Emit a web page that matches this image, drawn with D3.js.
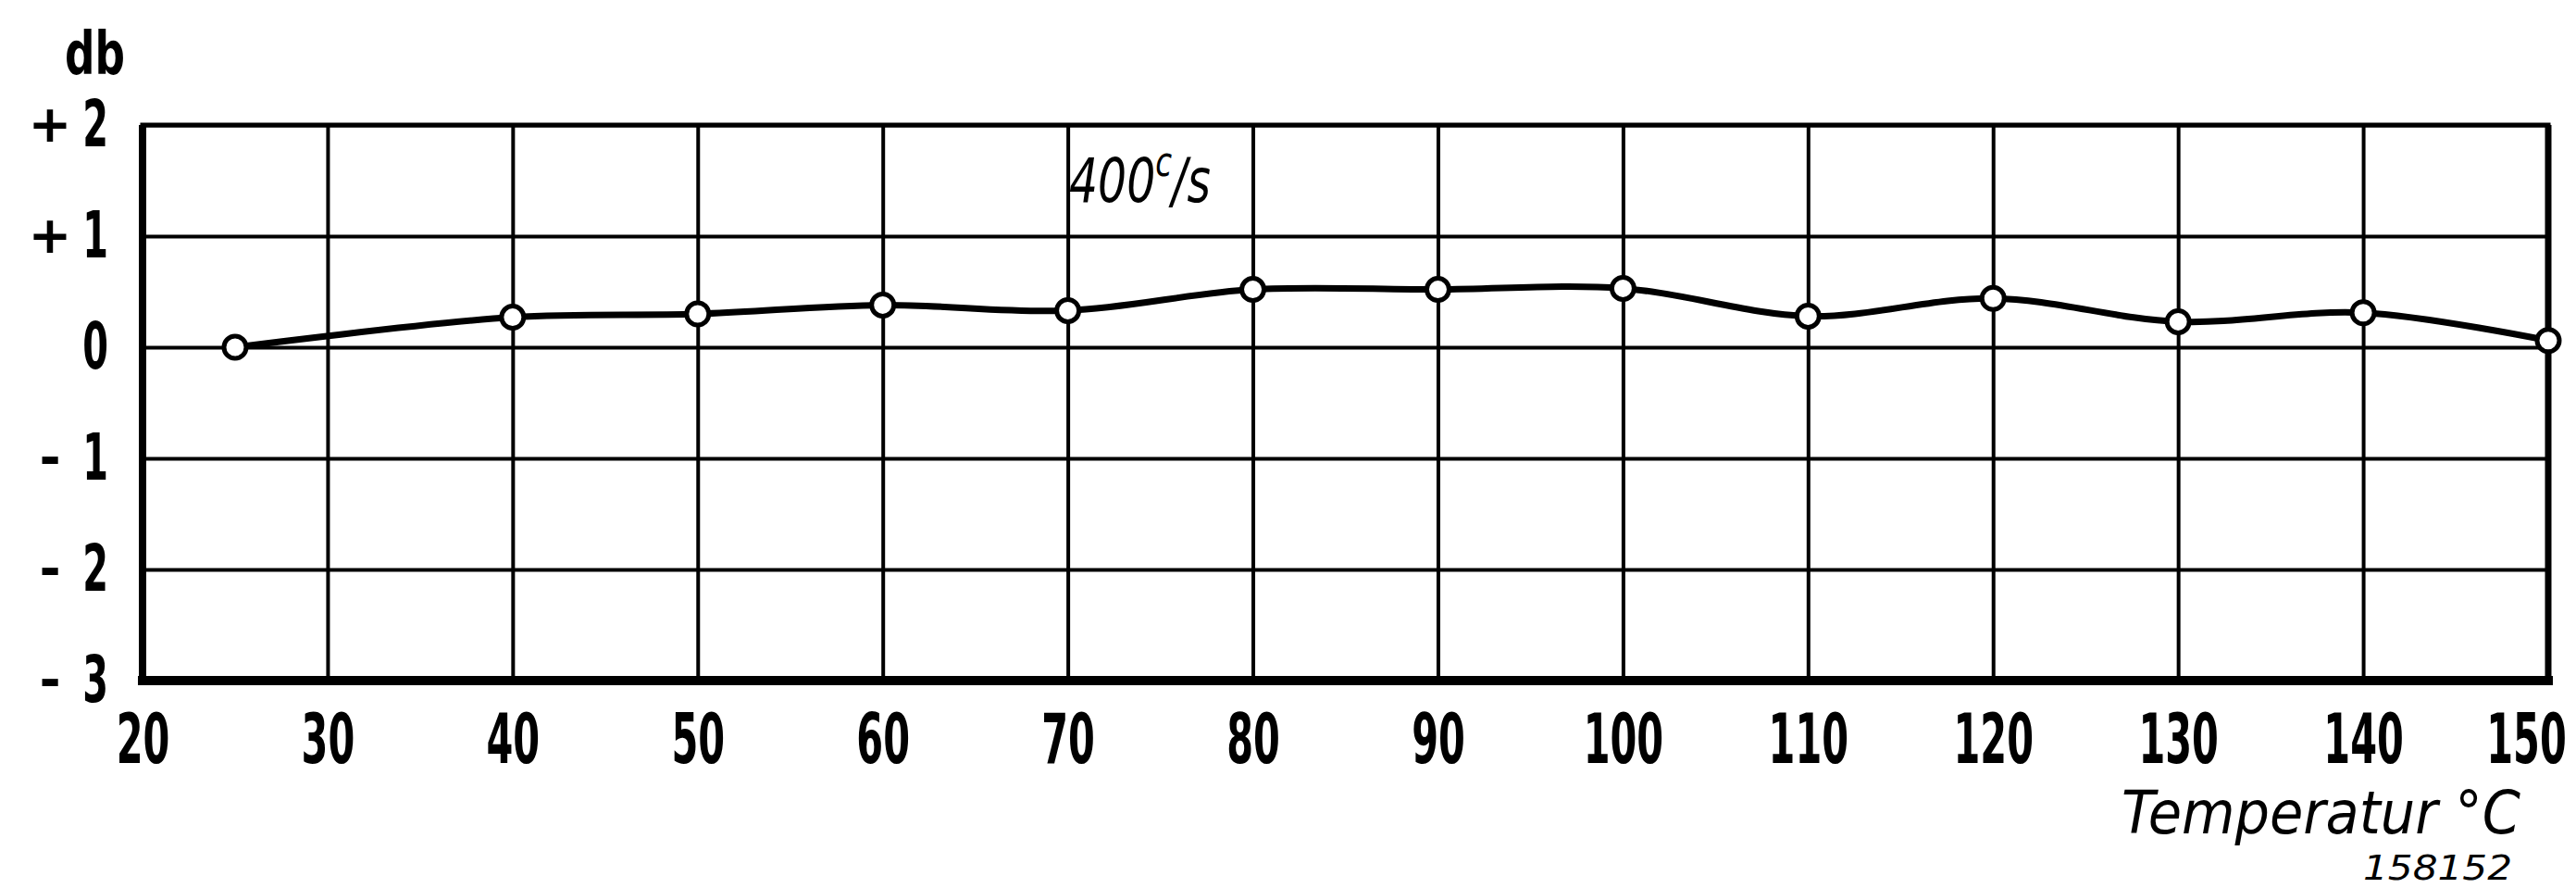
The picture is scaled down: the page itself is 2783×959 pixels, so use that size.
<!DOCTYPE html>
<html>
<head>
<meta charset="utf-8">
<script src="https://cdn.jsdelivr.net/npm/d3@7"></script>
<style>
	body{margin:0;background:#fff}
	svg text{font-family:"DejaVu Sans","Liberation Sans",sans-serif;font-weight:bold;fill:#000}
	.grid line{stroke:#000;stroke-width:4}
	.grid .domain{display:none}
	.lbl .domain{display:none}
</style>
</head>
<body>
<div id="chart"></div>
<script>
// measured points, temperature in degC and level in db
var temps=[25,40,50,60,70,80,90,100,110,120,130,140,150]
var levels=[0.0,0.27,0.30,0.38,0.33,0.52,0.52,0.53,0.28,0.44,0.23,0.31,0.06]

var xTicks=[20,30,40,50,60,70,80,90,100,110,120,130,140,150]
var yTicks=[2,1,0,-1,-2,-3]
var ySigns=["+","+","","-","-","-"]

var width=2783, height=959

var x=d3.scaleLinear()
	.domain([20,150])
	.range([154,2753])
var y=d3.scaleLinear()
	.domain([-3,2])
	.range([735,135])

var svg=d3.select("#chart").append("svg")
	.attr("width",width)
	.attr("height",height)

// grid, vertical lines
svg.append("g")
	.attr("class","grid")
	.attr("transform","translate(0,"+y(-3)+")")
	.call(d3.axisBottom(x).tickValues(xTicks).tickSize(-(y(-3)-y(2))).tickFormat(""))

// grid, horizontal lines
svg.append("g")
	.attr("class","grid")
	.attr("transform","translate("+x(20)+",0)")
	.call(d3.axisLeft(y).tickValues(yTicks).tickSize(-(x(150)-x(20))).tickFormat(""))

// frame, each side drawn with its own weight like the original print
var frame=[
	{x1:20,y1:2,x2:150,y2:2,w:5},
	{x1:20,y1:-3,x2:150,y2:-3,w:10},
	{x1:20,y1:-3,x2:20,y2:2,w:8},
	{x1:150,y1:-3,x2:150,y2:2,w:7}
]
svg.selectAll(".frame")
	.data(frame)
	.enter().append("line")
	.attr("class","frame")
	.attr("x1",function(d){return x(d.x1)-(d.x1==d.x2?0:d.w/2)})
	.attr("x2",function(d){return x(d.x2)+(d.x1==d.x2?0:d.w/2)})
	.attr("y1",function(d){return y(d.y1)})
	.attr("y2",function(d){return y(d.y2)})
	.attr("stroke","#000")
	.attr("stroke-width",function(d){return d.w})

// x labels, the old lettering is narrow so the glyphs get squeezed
var sx=0.56
var xl=svg.append("g")
	.attr("class","lbl")
	.attr("transform","translate(0,"+y(-3)+")")
	.call(d3.axisBottom(x).tickValues(xTicks).tickSize(0).tickPadding(36))
xl.selectAll("text")
	.style("font-size","74px")
	.attr("transform","scale("+sx+",1)")
// last label sits a bit left of its line, inside the page
xl.selectAll(".tick").filter(function(d){return d==150}).select("text")
	.attr("x",-24/sx)

// y labels, digits right aligned and the sign kept in its own column
var sy=0.57
var yl=svg.append("g")
	.attr("class","lbl")
	.attr("transform","translate("+x(20)+",0)")
	.call(d3.axisLeft(y).tickValues(yTicks).tickSize(0).tickPadding(0).tickFormat(function(d){return Math.abs(d)}))
yl.selectAll("text")
	.style("font-size","70px")
	.attr("x",-37/sy)
	.attr("transform","scale("+sy+",1)")
yl.selectAll(".tick").append("text")
	.attr("x",-100)
	.attr("dy","0.32em")
	.attr("text-anchor","middle")
	.style("font-size","56px")
	.text(function(d,i){return ySigns[i]})

// the curve
var line=d3.line()
	.x(function(d){return x(d[0])})
	.y(function(d){return y(d[1])})
	.curve(d3.curveCatmullRom.alpha(0.5))

var pts=temps.map(function(t,i){return [t,levels[i]]})

svg.append("path")
	.datum(pts)
	.attr("d",line)
	.attr("fill","none")
	.attr("stroke","#000")
	.attr("stroke-width",7)

svg.selectAll(".dot")
	.data(pts)
	.enter().append("circle")
	.attr("class","dot")
	.attr("cx",function(d){return x(d[0])})
	.attr("cy",function(d){return y(d[1])})
	.attr("r",12)
	.attr("fill","#fff")
	.attr("stroke","#000")
	.attr("stroke-width",5)

// texts
svg.append("text")
	.attr("x",70)
	.attr("y",80)
	.attr("textLength",65)
	.attr("lengthAdjust","spacingAndGlyphs")
	.style("font-size","64px")
	.text("db")

// frequency note, squeezed like the tick labels
var sf=0.74
var fr=svg.append("text")
	.attr("x",1155/sf)
	.attr("y",218)
	.attr("transform","scale("+sf+",1)")
	.style("font-size","66px")
	.style("font-style","italic")
	.style("font-weight","normal")
fr.append("tspan").text("400")
fr.append("tspan").attr("dy",-28).style("font-size","44px").text("c")
fr.append("tspan").attr("dy",28).text("/s")

svg.append("text")
	.attr("x",2292)
	.attr("y",900)
	.attr("textLength",431)
	.attr("lengthAdjust","spacingAndGlyphs")
	.style("font-size","64px")
	.style("font-style","italic")
	.style("font-weight","normal")
	.text("Temperatur °C")

svg.append("text")
	.attr("x",2553)
	.attr("y",950)
	.attr("textLength",161)
	.attr("lengthAdjust","spacingAndGlyphs")
	.style("font-size","38px")
	.style("font-style","italic")
	.style("font-weight","normal")
	.text("158152")
</script>
</body>
</html>
